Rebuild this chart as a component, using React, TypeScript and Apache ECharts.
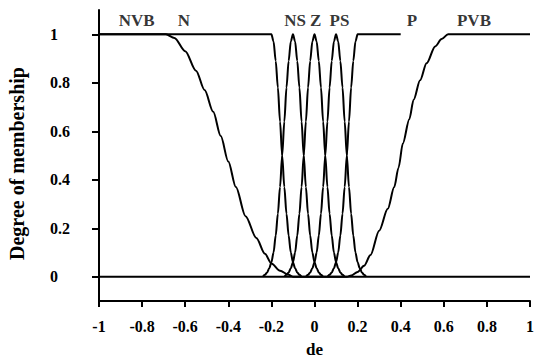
import React, { useEffect, useRef } from "react";
import * as echarts from "echarts";

// Membership functions: [de, degree]
const nvbCurve: number[][] = [
  [-1, 1], [-0.2, 1], [-0.19, 0.97], [-0.18, 0.89], [-0.17, 0.78], [-0.16, 0.64],
  [-0.15, 0.5], [-0.14, 0.37], [-0.13, 0.26], [-0.12, 0.17], [-0.11, 0.1],
  [-0.1, 0.06], [-0.09, 0.035], [-0.08, 0.018], [-0.07, 0.008], [-0.06, 0],
];
const nCurve: number[][] = [
  [-1, 1], [-0.69, 1], [-0.65, 0.985], [-0.6, 0.93], [-0.55, 0.85], [-0.51, 0.77],
  [-0.47, 0.68], [-0.435, 0.58], [-0.4, 0.475], [-0.365, 0.37], [-0.32, 0.25],
  [-0.27, 0.16], [-0.23, 0.095], [-0.2, 0.055], [-0.16, 0.025], [-0.12, 0.008],
  [-0.1, 0], [1, 0],
];
const nsCurve: number[][] = [
  [-0.24, 0], [-0.23, 0.008], [-0.22, 0.018], [-0.21, 0.035], [-0.2, 0.06], [-0.19, 0.1],
  [-0.18, 0.17], [-0.17, 0.26], [-0.16, 0.37], [-0.15, 0.5], [-0.14, 0.64], [-0.13, 0.78],
  [-0.12, 0.89], [-0.11, 0.97], [-0.1, 1], [-0.09, 0.97], [-0.08, 0.89], [-0.07, 0.78],
  [-0.06, 0.64], [-0.05, 0.5], [-0.04, 0.37], [-0.03, 0.26], [-0.02, 0.17], [-0.01, 0.1],
  [0, 0.06], [0.01, 0.035], [0.02, 0.018], [0.03, 0.008], [0.04, 0],
];
const zCurve: number[][] = [
  [-0.14, 0], [-0.13, 0.008], [-0.12, 0.018], [-0.11, 0.035], [-0.1, 0.06], [-0.09, 0.1],
  [-0.08, 0.17], [-0.07, 0.26], [-0.06, 0.37], [-0.05, 0.5], [-0.04, 0.64], [-0.03, 0.78],
  [-0.02, 0.89], [-0.01, 0.97], [0, 1], [0.01, 0.97], [0.02, 0.89], [0.03, 0.78],
  [0.04, 0.64], [0.05, 0.5], [0.06, 0.37], [0.07, 0.26], [0.08, 0.17], [0.09, 0.1],
  [0.1, 0.06], [0.11, 0.035], [0.12, 0.018], [0.13, 0.008], [0.14, 0],
];
const psCurve: number[][] = [
  [-0.04, 0], [-0.03, 0.008], [-0.02, 0.018], [-0.01, 0.035], [0, 0.06], [0.01, 0.1],
  [0.02, 0.17], [0.03, 0.26], [0.04, 0.37], [0.05, 0.5], [0.06, 0.64], [0.07, 0.78],
  [0.08, 0.89], [0.09, 0.97], [0.1, 1], [0.11, 0.97], [0.12, 0.89], [0.13, 0.78],
  [0.14, 0.64], [0.15, 0.5], [0.16, 0.37], [0.17, 0.26], [0.18, 0.17], [0.19, 0.1],
  [0.2, 0.06], [0.21, 0.035], [0.22, 0.018], [0.23, 0.008], [0.24, 0],
];
const pCurve: number[][] = [
  [0.06, 0], [0.07, 0.008], [0.08, 0.018], [0.09, 0.035], [0.1, 0.06], [0.11, 0.1],
  [0.12, 0.17], [0.13, 0.26], [0.14, 0.37], [0.15, 0.5], [0.16, 0.64], [0.17, 0.78],
  [0.18, 0.89], [0.19, 0.97], [0.2, 1], [0.4, 1],
];
const pvbCurve: number[][] = [
  [-1, 0], [0.15, 0], [0.17, 0.005], [0.2, 0.02], [0.23, 0.045], [0.26, 0.09],
  [0.3, 0.19], [0.34, 0.28], [0.37, 0.37], [0.39, 0.45], [0.41, 0.55], [0.44, 0.65],
  [0.46, 0.73], [0.49, 0.81], [0.52, 0.88], [0.56, 0.95], [0.59, 0.98], [0.62, 1], [1, 1],
];

const setNames: string[] = ["NVB", "N", "NS", "Z", "PS", "P", "PVB"];
const setLabelX: number[] = [-0.825, -0.606, -0.09, 0.005, 0.116, 0.452, 0.74];
const setLabelY = 1.055;

const yTicks: number[] = [0, 0.2, 0.4, 0.6, 0.8, 1];

const FONT = "Liberation Serif";

export default function App() {
  const ref = useRef<HTMLDivElement>(null);
  useEffect(() => {
    if (!ref.current) return;
    const chart = echarts.init(ref.current, undefined, { renderer: "svg" });
    const curves = [nvbCurve, nCurve, nsCurve, zCurve, psCurve, pCurve, pvbCurve];
    const lineSeries = curves.map((d, i) => ({
      type: "line",
      name: setNames[i],
      data: d,
      showSymbol: false,
      smooth: 0.3,
      smoothMonotone: "x",
      lineStyle: { color: "#000", width: 2 },
      z: 2,
    }));
    chart.setOption({
      animation: false,
      backgroundColor: "#fff",
      grid: { left: 99, right: 5, top: 10, bottom: 57, outerBoundsMode: "none", containLabel: false },
      xAxis: {
        type: "value",
        min: -1,
        max: 1,
        interval: 0.2,
        name: "de",
        nameLocation: "middle",
        nameGap: 40,
        nameTextStyle: { fontFamily: FONT, fontWeight: "bold", fontSize: 17, color: "#000" },
        axisLine: { onZero: false, lineStyle: { color: "#000", width: 2 } },
        axisTick: { length: 6, lineStyle: { color: "#000", width: 2 } },
        axisLabel: {
          margin: 17,
          fontFamily: FONT,
          fontWeight: "bold",
          fontSize: 16,
          color: "#000",
          formatter: (v: number) => String(Math.round(v * 10) / 10),
        },
        splitLine: { show: false },
      },
      yAxis: {
        type: "value",
        min: -0.1,
        max: 1.1,
        name: "Degree of membership",
        nameLocation: "middle",
        nameGap: 72,
        nameTextStyle: { fontFamily: FONT, fontWeight: "bold", fontSize: 20, color: "#000", padding: [0, 16, 0, 0] },
        axisLine: { onZero: false, lineStyle: { color: "#000", width: 2 } },
        axisTick: { length: 7, customValues: yTicks, lineStyle: { color: "#000", width: 2 } },
        axisLabel: {
          customValues: yTicks,
          align: "left",
          margin: 49,
          fontFamily: FONT,
          fontWeight: "bold",
          fontSize: 16,
          color: "#000",
          formatter: (v: number) => String(Math.round(v * 10) / 10),
        },
        splitLine: { show: false },
      },
      series: [
        ...lineSeries,
        {
          type: "scatter",
          symbolSize: 0,
          silent: true,
          data: setNames.map((n, i) => [setLabelX[i], setLabelY, n]),
          label: {
            show: true,
            position: "inside",
            formatter: (p: any) => p.data[2],
            fontFamily: FONT,
            fontWeight: "bold",
            fontSize: 17,
            color: "#000",
          },
          z: 3,
        },
      ],
    });
    return () => chart.dispose();
  }, []);
  return <div ref={ref} style={{ width: 535, height: 358, position: "absolute", left: 0, top: 0 }} />;
}
